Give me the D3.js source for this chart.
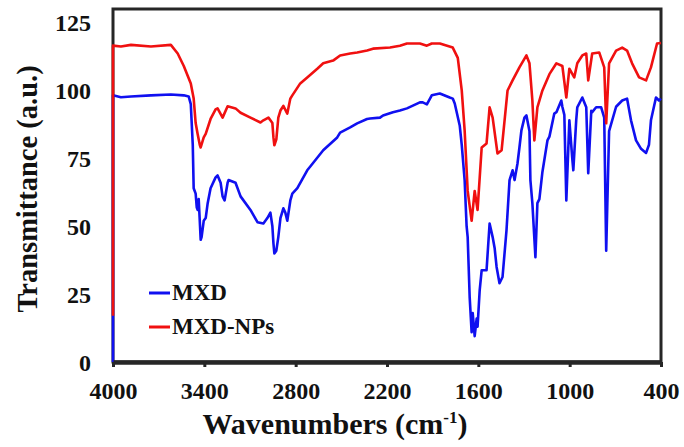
<!DOCTYPE html>
<html lang="en">
<head>
    <meta charset="UTF-8">
    <title>FTIR spectra</title>
    <script src="https://d3js.org/d3.v7.min.js"></script>
    <style>
        body { margin: 0; background: #fff; }
        text { font-family: "Liberation Serif", "Times New Roman", serif; font-weight: bold; fill: #111; }
    </style>
</head>
<body>
<svg id="chart" width="684" height="447"></svg>
<script>
    // wavenumber (cm-1), transmittance (a.u.)
    var mxd = [
        [4000, 0], [4000, 98.2], [3948, 97.5], [3882, 97.8], [3751, 98.2], [3620, 98.5], [3535, 98.2],
        [3503, 97.8], [3489, 95], [3476, 80], [3470, 64], [3457, 62], [3450, 57], [3444, 56], [3437, 60],
        [3430, 52], [3424, 45], [3418, 46], [3404, 52], [3391, 53], [3378, 58.5], [3359, 64], [3326, 68],
        [3313, 68.7], [3293, 66], [3280, 61], [3267, 59.5], [3247, 66], [3241, 67], [3195, 66], [3162, 61],
        [3097, 56], [3051, 51.5], [3012, 51], [2986, 53], [2966, 55], [2953, 50], [2946, 43.7], [2940, 40],
        [2927, 41], [2914, 46], [2900, 53], [2881, 56.6], [2868, 55], [2855, 52], [2835, 59.5], [2822, 62],
        [2789, 64], [2724, 70.6], [2704, 72], [2619, 78], [2527, 82.7], [2508, 84.5], [2442, 86.4],
        [2396, 87.9], [2331, 89.5], [2311, 89.7], [2246, 90], [2226, 90.8], [2161, 92], [2115, 92.6],
        [2069, 93.4], [1984, 95.6], [1965, 95.6], [1938, 94.9], [1906, 98.2], [1853, 98.9], [1788, 97.4],
        [1768, 97], [1755, 95.2], [1722, 87], [1709, 80], [1690, 67], [1677, 50], [1670, 46], [1657, 24],
        [1644, 11], [1637, 18], [1624, 9.5], [1611, 16], [1605, 13], [1591, 26.5], [1578, 33.8], [1546, 33.8],
        [1526, 51], [1506, 46], [1493, 42], [1480, 35], [1461, 29], [1441, 31.3], [1415, 48.5], [1395, 67],
        [1375, 70.6], [1362, 67], [1343, 73], [1330, 79], [1317, 85.3], [1297, 90], [1284, 90.8], [1264, 85],
        [1258, 67], [1245, 58.5], [1225, 38.6], [1212, 58.5], [1199, 60], [1179, 70], [1146, 81.6],
        [1133, 83], [1101, 91.5], [1087, 92], [1055, 96.3], [1048, 94], [1035, 91], [1022, 59.5], [1002, 89],
        [983, 75], [976, 70.6], [957, 89], [950, 93.8], [917, 97.4], [891, 93.8], [878, 69.5], [858, 92.5],
        [852, 92], [826, 93.8], [793, 93.8], [773, 90], [760, 41], [741, 85], [695, 94], [655, 96.3],
        [623, 97], [597, 89], [564, 81.6], [531, 78.5], [498, 77], [479, 80], [466, 89], [433, 97.4],
        [413, 96.3], [400, 97]
    ];

    var mxdNps = [
        [4000, 17], [4000, 116.5], [3948, 116.2], [3882, 116.8], [3751, 116.2], [3620, 116.8], [3575, 113.6],
        [3535, 109], [3489, 102.6], [3470, 97], [3457, 88], [3444, 84], [3430, 80], [3424, 79], [3404, 82.7],
        [3391, 84], [3359, 89.5], [3326, 93], [3313, 93.4], [3280, 90], [3247, 94.2], [3195, 93.4],
        [3162, 91.8], [3097, 90], [3031, 88.2], [3012, 89], [2979, 90], [2966, 89], [2953, 88], [2946, 82.7],
        [2940, 79.8], [2927, 82], [2914, 90], [2900, 92.6], [2881, 94.3], [2855, 91.5], [2835, 97],
        [2822, 98.2], [2770, 102.6], [2724, 104.8], [2658, 108], [2619, 110], [2554, 111], [2508, 112.9],
        [2442, 113.6], [2396, 114], [2331, 114.7], [2292, 115.4], [2180, 115.8], [2115, 116.5], [2069, 117.3],
        [1984, 117.3], [1938, 116.5], [1906, 117.3], [1853, 117.3], [1768, 115.8], [1735, 112], [1709, 100],
        [1690, 85.3], [1670, 63], [1644, 52], [1624, 63], [1605, 56], [1578, 79], [1546, 80.5], [1526, 93.8],
        [1506, 90], [1474, 76.8], [1447, 78], [1408, 100], [1375, 103.7], [1330, 108.5], [1284, 112.9],
        [1264, 110], [1245, 96.3], [1232, 81.6], [1212, 93.8], [1179, 100], [1133, 106], [1087, 110],
        [1048, 109], [1022, 97.4], [1002, 108], [970, 104.8], [950, 110], [917, 112.9], [891, 113.6],
        [878, 103.7], [852, 113.6], [806, 114], [773, 108.5], [760, 87.9], [741, 110], [695, 114.7],
        [655, 115.8], [623, 114.7], [590, 110], [544, 104.8], [498, 103.7], [466, 108.5], [426, 117.3],
        [400, 117.5]
    ];

    var xTicks = [4000, 3400, 2800, 2200, 1600, 1000, 400];
    var yTicks = [0, 25, 50, 75, 100, 125];
    var series = [
        {name: "MXD", values: mxd, color: "#1010f0"},
        {name: "MXD-NPs", values: mxdNps, color: "#f01010"}
    ];

    var svg = d3.select("#chart");
    var plotLeft = 113, plotRight = 661, plotTop = 9, plotBottom = 362;

    var x = d3.scaleLinear().domain([4000, 400]).range([plotLeft, plotRight]);
    var y = d3.scaleLinear().domain([0, 130]).range([plotBottom, plotTop]);

    // frame
    svg.append("rect")
        .attr("x", plotLeft).attr("y", plotTop)
        .attr("width", plotRight - plotLeft).attr("height", plotBottom - plotTop)
        .attr("fill", "none").attr("stroke", "#262626").attr("stroke-width", 3);

    var line = d3.line()
        .x(function (d) { return x(d[0]); })
        .y(function (d) { return y(d[1]); });

    svg.append("g").selectAll("path")
        .data(series)
        .enter().append("path")
        .attr("d", function (d) { return line(d.values); })
        .attr("fill", "none")
        .attr("stroke", function (d) { return d.color; })
        .attr("stroke-width", 2.6)
        .attr("stroke-linejoin", "round");

    // bottom axis
    var xAxis = svg.append("g")
        .attr("transform", "translate(0," + plotBottom + ")")
        .call(d3.axisBottom(x).tickValues(xTicks).tickFormat(d3.format("d"))
            .tickSize(5).tickPadding(15).tickSizeOuter(0));
    xAxis.select(".domain").attr("stroke", "#262626").attr("stroke-width", 4.5);
    xAxis.selectAll(".tick line").attr("stroke", "#262626").attr("stroke-width", 3);
    xAxis.selectAll(".tick text")
        .attr("fill", "#111")
        .style("font-family", "'Liberation Serif', serif")
        .style("font-weight", "bold")
        .style("font-size", "24px");

    // left labels, no tick marks
    svg.append("g").selectAll("text")
        .data(yTicks)
        .enter().append("text")
        .attr("x", 91)
        .attr("y", function (d) { return y(d) + 8.5; })
        .attr("text-anchor", "end")
        .style("font-size", "24px")
        .text(function (d) { return d; });

    // axis titles
    var xTitle = svg.append("text")
        .attr("x", 335).attr("y", 434)
        .attr("text-anchor", "middle")
        .style("font-size", "30px");
    xTitle.append("tspan").text("Wavenumbers (cm");
    xTitle.append("tspan").attr("dy", -11).style("font-size", "17px").text("-1");
    xTitle.append("tspan").attr("dy", 11).text(")");

    svg.append("text")
        .attr("transform", "translate(37,189) rotate(-90)")
        .attr("text-anchor", "middle")
        .style("font-size", "28.5px")
        .text("Transmittance (a.u.)");

    // legend
    var legend = svg.append("g").selectAll("g")
        .data(series)
        .enter().append("g")
        .attr("transform", function (d, i) { return "translate(149," + (293 + i * 34) + ")"; });
    legend.append("line")
        .attr("x1", 0).attr("x2", 21)
        .attr("stroke", function (d) { return d.color; })
        .attr("stroke-width", 3);
    legend.append("text")
        .attr("x", 23).attr("y", 7)
        .style("font-size", "23px")
        .text(function (d) { return d.name; });
</script>
</body>
</html>
